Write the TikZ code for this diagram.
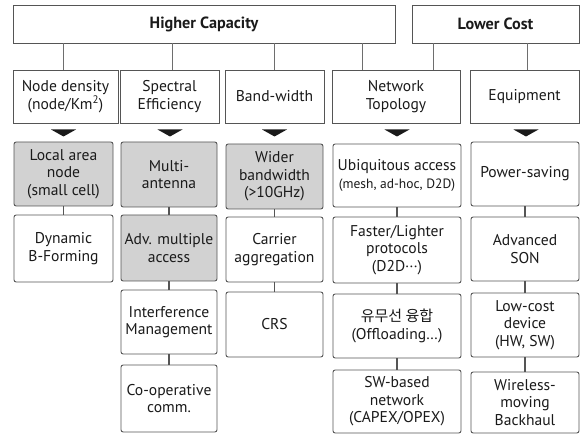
\documentclass[tikz,border=0pt]{standalone}
\usepackage{fontspec}
\setmainfont{PT Sans}
\newfontfamily\krfont{Noto Sans CJK KR}
\definecolor{ink}{HTML}{1A1A1A}
\definecolor{boxline}{HTML}{555555}
\definecolor{boxfill}{HTML}{D2D2D2}
\definecolor{linkgray}{HTML}{6E6E6E}

% box given by its left, top, right and bottom edges (y grows downwards)
\newcommand\placebox[7]{%
  \node[#1, minimum width={#5-#3}, minimum height={#6-#4}] (#2)
    at ({(#3+#5)/2},{(#4+#6)/2}) {#7};}
% small downward pointer under a category box
\newcommand\pointer[1]{%
  \fill[ink] (#1-12.5,129.5) -- (#1+12.5,129.5) -- (#1,136.5) -- cycle;}

\begin{document}
\begin{tikzpicture}[x=1pt,y=-1pt,
  every node/.style={text=ink},
  basebox/.style={draw=boxline, line width=0.9pt, align=center, inner sep=0pt,
    font=\fontsize{15.6}{17.6}\selectfont},
  head/.style={basebox, font=\fontsize{16.2}{18}\selectfont\bfseries},
  category/.style={basebox},
  cell/.style={basebox, rounded corners=2.2pt, fill=white},
  shaded/.style={cell, fill=boxfill},
  link/.style={draw=linkgray, line width=0.8pt},
  stack/.style={draw=boxline, line width=1.1pt}]

\useasboundingbox (0,0) rectangle (582,435);

% goals
\placebox{head}{hc}{13}{5}{395}{43}{Higher Capacity}
\placebox{head}{lc}{412}{5}{579}{43}{Lower Cost}

% categories
\placebox{category}{c1}{13}{70}{118}{123}{Node density\\(node/Km\textsuperscript{2})}
\placebox{category}{c2}{120}{70}{219}{123}{Spectral\\Efficiency}
\placebox{category}{c3}{225}{70}{324}{123}{Band-width}
\placebox{category}{c4}{332}{70}{460}{123}{Network\\Topology}
\placebox{category}{c5}{470}{70}{579}{123}{Equipment}

\coordinate (t1) at (63,70);
\coordinate (t2) at (172,70);
\coordinate (t3) at (274,70);
\coordinate (t4a) at (362,70);
\coordinate (t4b) at (433,70);
\coordinate (t5) at (527,70);
\foreach \t/\g in {t1/hc,t2/hc,t3/hc,t4a/hc,t4b/lc,t5/lc}
  \draw[link] (\t |- \g.south) -- (\t);

\pointer{63.5}
\pointer{170}
\pointer{274.5}
\pointer{397}
\pointer{526}

% column 1
\placebox{shaded}{a1}{14}{142}{113}{206}{Local area\\node\\(small cell)}
\placebox{cell}{a2}{14}{215}{113}{282}{Dynamic\\B-Forming}

% column 2
\placebox{shaded}{b1}{121}{142}{217}{207}{Multi-\\antenna}
\placebox{shaded}{b2}{121}{215}{217}{281}{Adv. multiple\\access}
\placebox{cell}{b3}{121}{290}{217}{354}{Interference\\Management}
\placebox{cell}{b4}{121}{365}{217}{432}{Co-operative\\comm.}

% column 3
\placebox{shaded}{d1}{226}{144}{323}{209}{Wider\\bandwidth\\(>10GHz)}
\placebox{cell}{d2}{226}{217}{323}{282}{Carrier\\aggregation}
\placebox{cell}{d3}{226}{292}{323}{357}{CRS}

% column 4
\placebox{cell}{e1}{333}{144}{461}{207}{Ubiquitous access\\{\fontsize{13.5}{15}\selectfont(mesh, ad-hoc, D2D)}}
\placebox{cell}{e2}{333}{217}{461}{283}{Faster/Lighter\\protocols\\(D2D···)}
\placebox{cell}{e3}{333}{294}{461}{358}{{\krfont\fontsize{15}{17.6}\selectfont 유무선 융합}\\(Offloading…)}
\placebox{cell}{e4}{333}{370}{461}{433}{SW-based\\network\\(CAPEX/OPEX)}

% column 5
\placebox{cell}{f1}{471}{142}{579}{206}{Power-saving}
\placebox{cell}{f2}{471}{217}{579}{281}{Advanced\\SON}
\placebox{cell}{f3}{471}{293}{579}{357}{Low-cost\\device\\(HW, SW)}
\placebox{cell}{f4}{471}{372}{579}{433}{Wireless-\\moving\\Backhaul}

% vertical links inside each column
\foreach \u/\v in {a1/a2, b1/b2, b2/b3, b3/b4, d1/d2, d2/d3,
                   e1/e2, e2/e3, e3/e4, f1/f2, f2/f3, f3/f4}
  \draw[stack] (\u.south) -- (\v.north);

\end{tikzpicture}
\end{document}
